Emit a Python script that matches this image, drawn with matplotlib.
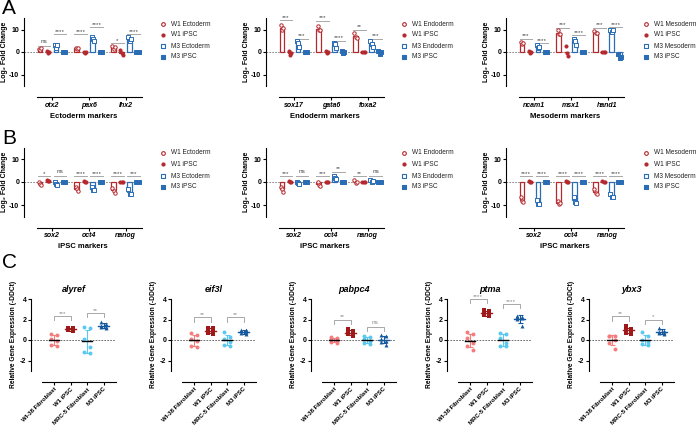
import matplotlib
matplotlib.use('Agg')
import matplotlib.pyplot as plt
import numpy as np

plt.rcParams['font.family'] = ['Liberation Sans', 'DejaVu Sans']
plt.rcParams['axes.linewidth'] = 0.8

W, H = 696, 430
RED = '#b5282e'
BLUE = '#2a6db5'
SIGLINE = '#a8a8a8'
SIGTXT = '#444444'

# ---- panel A / B data: [gene][replicate] for each series ----
lineages = ['Ectoderm', 'Endoderm', 'Mesoderm']
a_genes = [['otx2', 'pax6', 'lhx2'], ['sox17', 'gata6', 'foxa2'], ['ncam1', 'msx1', 'hand1']]
b_genes = ['sox2', 'oct4', 'nanog']

# A: lineage markers
a_w1_diff = [
    [[1.5, 0.8, 2.0], [2.0, 1.2, 1.8], [2.5, 1.5, 2.2]],
    [[12.0, 9.8, 10.6], [11.5, 10.0, 9.6], [8.4, 6.6, 6.4]],
    [[4.5, 3.4, 3.8], [9.8, 8.2, 8.0], [9.2, 8.3, 8.6]],
]
a_w1_ipsc = [
    [[0.5, -0.4, 0.0], [0.2, -0.3, 0.0], [0.9, -0.6, -1.3]],
    [[0.3, -1.2, -0.5], [0.5, -0.5, 0.0], [0.2, -0.1, 0.0]],
    [[0.5, -0.6, -0.2], [2.5, -0.6, -1.8], [0.2, -0.2, 0.0]],
]
a_m3_diff = [
    [[3.2, 2.0, 3.0], [6.5, 5.8, 4.9], [6.6, 5.0, 6.0]],
    [[5.0, 4.0, 2.4], [4.2, 3.6, 1.8], [4.8, 3.6, 2.2]],
    [[3.2, 1.8, 2.2], [6.0, 4.8, 3.3], [10.0, 8.8, 9.6]],
]
a_m3_ipsc = [
    [[0.1, -0.1, 0.0], [0.1, -0.1, 0.0], [0.1, -0.1, 0.0]],
    [[0.2, -0.2, 0.0], [0.3, -0.6, 0.1], [0.4, -0.8, -0.2]],
    [[0.2, -0.2, 0.0], [0.1, -0.1, 0.0], [-1.0, -2.8, -2.0]],
]
a_sig = [['ns', '****', '****', '****', '*', '****'],
         ['***', '***', '***', '****', '**', '***'],
         ['***', '****', '***', '****', '***', '****']]
a_sig_y = [[2.7, 8, 8, 11, 4, 8],
           [14.2, 6, 14, 5, 10, 6],
           [6, 4, 10.7, 7.5, 10.7, 11]]

# B: iPSC markers
b_w1_diff = [
    [[-0.2, -1.0, -1.4], [-2.0, -3.0, -4.0], [-2.4, -4.0, -4.6]],
    [[-2.0, -3.2, -4.2], [0.2, -1.2, -1.6], [1.0, -0.6, 0.2]],
    [[-6.5, -8.2, -8.6], [-8.2, -9.6, -9.2], [-3.0, -4.6, -5.0]],
]
b_w1_ipsc = [
    [[1.0, 0.3, 0.6], [0.5, -0.2, 0.1], [0.2, -0.1, 0.1]],
    [[0.3, -0.1, 0.0], [0.2, 0.0, -0.1], [0.1, 0.0, -0.1]],
    [[0.6, -0.2, 0.1], [0.3, -0.2, 0.0], [0.3, -0.2, 0.0]],
]
b_m3_diff = [
    [[0.2, -0.8, -1.2], [-2.2, -3.5, -3.6], [-3.0, -5.2, -5.0]],
    [[0.2, -0.6, -1.0], [2.5, 1.6, 1.2], [0.8, 0.2, 0.4]],
    [[-8.0, -9.6, -9.4], [-6.4, -8.6, -9.0], [-5.0, -6.6, -6.4]],
]
b_m3_ipsc = [
    [[0.1, -0.1, 0.0], [0.1, -0.1, 0.0], [0.1, -0.2, 0.0]],
    [[0.1, 0.0, -0.1], [0.1, -0.1, 0.0], [0.1, -0.2, 0.0]],
    [[0.2, -0.1, 0.0], [0.1, -0.1, 0.2], [0.2, -0.1, 0.0]],
]
b_sig = [['*', 'ns', '****', '****', '****', '***'],
         ['***', 'ns', '***', '**', '**', 'ns'],
         ['****', '****', '****', '****', '****', '****']]
b_sig_y = [[2.6, 2.6, 2.6, 2.6, 2.6, 2.6],
           [2.6, 2.6, 2.6, 4.5, 2.6, 2.6],
           [2.6, 2.6, 2.6, 2.6, 2.6, 2.6]]

# ---- panel C data ----
c_genes = ['alyref', 'eif3l', 'pabpc4', 'ptma', 'ybx3']
c_groups = ['WI-38 Fibroblast', 'W1 iPSC', 'MRC-5 Fibroblast', 'M3 iPSC']
c_colors = ['#f47c7c', '#9e1a1a', '#5ac8f0', '#15589c']
c_markers = ['o', 's', 'o', '^']
c_wi38 = [[0.55, 0.5, 0.05, -0.05, -0.5, -0.55],
          [0.65, 0.5, 0.1, -0.1, -0.6, -0.7],
          [0.3, 0.2, 0.05, -0.05, -0.2, -0.25],
          [0.75, 0.6, 0.2, -0.3, -0.6, -0.95],
          [0.4, 0.4, 0.35, 0.0, -0.3, -0.85]]
c_w1 = [[1.2, 1.15, 1.05, 1.0, 0.95, 0.85],
        [1.2, 1.15, 0.95, 0.85, 0.65, 0.6],
        [1.1, 0.85, 0.75, 0.65, 0.55, 0.4],
        [2.95, 2.8, 2.65, 2.55, 2.4, 2.3],
        [1.35, 1.1, 1.0, 0.85, 0.7, 0.6]]
c_mrc5 = [[1.25, 1.15, 0.1, -0.7, -1.2, -1.3],
          [0.75, 0.3, 0.05, -0.15, -0.45, -0.6],
          [0.4, 0.3, 0.05, -0.05, -0.3, -0.35],
          [0.7, 0.55, 0.15, -0.25, -0.55, -0.6],
          [0.8, 0.35, 0.0, -0.2, -0.35, -0.45]]
c_m3 = [[1.75, 1.55, 1.4, 1.3, 1.25, 1.15],
        [1.0, 0.95, 0.85, 0.75, 0.7, 0.55],
        [0.45, 0.35, 0.1, -0.05, -0.2, -0.45],
        [2.35, 2.25, 2.2, 2.15, 2.05, 1.35],
        [1.2, 0.9, 0.8, 0.7, 0.65, 0.6]]
c_sig = [['***', '**'], ['**', '**'], ['**', 'ns'], ['****', '****'], ['**', '*']]
c_sig_y = [[2.35, 2.65], [2.2, 2.2], [2.0, 1.3], [4.0, 3.5], [2.3, 2.0]]


def px_axes(fig, left, top, width, height):
    return fig.add_axes([left / W, 1 - (top + height) / H, width / W, height / H])


def style_axes(ax, xbounds):
    # spine moves reset the ticks, so do them before any tick styling
    for sp in ('top', 'right'):
        ax.spines[sp].set_visible(False)
    ax.spines['bottom'].set_position(('outward', 8))
    ax.spines['bottom'].set_bounds(*xbounds)
    ax.tick_params(length=2.2, width=0.8, pad=1.2, labelsize=5)


def marker_panel(ax, genes, series, sigs, sig_ys, xlabel):
    style_axes(ax, (-1.9, 11.3))
    centers = np.arange(len(genes)) * 4.6
    offs = [-1.5, -0.5, 0.5, 1.5]
    styles = [(RED, 'o', False), (RED, 'o', True), (BLUE, 's', False), (BLUE, 's', True)]
    ax.axhline(0, color='#777777', lw=0.6, ls=(0, (2, 1.5)), zorder=1)
    for s, (vals, (col, mk, filled)) in enumerate(zip(series, styles)):
        for g in range(len(genes)):
            x = centers[g] + offs[s]
            v = np.array(vals[g])
            ax.bar(x, v.mean(), width=0.62, facecolor='none', edgecolor=col, lw=0.9, zorder=2)
            jit = (np.arange(len(v)) - (len(v) - 1) / 2) * 0.14
            ax.scatter(x + jit, v, marker=mk, s=6 if not filled else 5,
                       facecolors=col if filled else 'white', edgecolors=col,
                       linewidths=0.7, zorder=3)
    k = 0
    for g in range(len(genes)):
        for p in (0, 2):
            x0 = centers[g] + offs[p] - 0.3
            x1 = centers[g] + offs[p + 1] + 0.3
            y = sig_ys[k]
            ax.plot([x0, x1], [y, y], color=SIGLINE, lw=0.7, zorder=2)
            lab = sigs[k]
            ax.text((x0 + x1) / 2, y + (1.0 if lab == 'ns' else 0.2), lab,
                    ha='center', va='bottom', fontsize=4.6, color=SIGTXT)
            k += 1
    ax.set_xlim(-3.5, 11.3)
    ax.set_ylim(-15, 15)
    ax.set_yticks([-10, 0, 10])
    ax.set_yticklabels(['-10', '0', '10'], fontweight='bold', fontsize=5)
    ax.set_xticks(centers)
    ax.set_xticklabels(genes, fontstyle='italic', fontweight='bold', fontsize=5)
    ax.set_ylabel('Log₂ Fold Change', fontsize=5, fontweight='bold', labelpad=0.8)
    ax.set_xlabel(xlabel, fontsize=5.5, fontweight='bold', labelpad=3)


def c_panel(ax, title, groups, sigs, sig_ys):
    style_axes(ax, (-0.75, 3.75))
    ax.axhline(0, color='#555555', lw=0.6, ls=(0, (2, 1.5)), zorder=1)
    for i, vals in enumerate(groups):
        v = np.array(vals)
        m, sd = v.mean(), v.std(ddof=1)
        ax.errorbar(i, m, yerr=sd, color=c_colors[i], capsize=1.8, lw=0.8,
                    capthick=0.8, zorder=2)
        order = np.argsort(-v)
        xs = np.zeros(len(v))
        xs[order] = np.where(np.arange(len(v)) % 2 == 0, -0.17, 0.17)
        ax.scatter(i + xs, v, marker=c_markers[i], s=8, color=c_colors[i],
                   linewidths=0, zorder=3)
        ax.plot([i - 0.32, i + 0.32], [m, m], color='black' if i % 2 == 0 else c_colors[i],
                lw=1.0, zorder=4)
    for j, (a, b) in enumerate([(0, 1), (2, 3)]):
        y = sig_ys[j]
        ax.plot([a, a, b, b], [y - 0.4, y, y, y - 0.4], color=SIGLINE, lw=0.7)
        lab = sigs[j]
        ax.text((a + b) / 2, y + (0.12 if lab == 'ns' else 0.02), lab, ha='center',
                va='bottom', fontsize=4.6, color='#888888')
    ax.set_xlim(-1.4, 3.75)
    ax.set_ylim(-3, 4)
    ax.set_yticks([-2, 0, 2, 4])
    ax.set_yticklabels(['-2', '0', '2', '4'], fontweight='bold', fontsize=5)
    ax.set_xticks(np.arange(4))
    ax.set_xticklabels(c_groups, rotation=45, ha='right', rotation_mode='anchor',
                       fontsize=4.3, fontweight='bold')
    ax.set_title(title, fontstyle='italic', fontweight='bold', fontsize=6.5, pad=5)
    ax.set_ylabel('Relative Gene Expression (-DDCt)', fontsize=4.8, fontweight='bold',
                  labelpad=2)


fig = plt.figure(figsize=(W / 100, H / 100), dpi=100)
lefts = [24, 266, 506]
leg_x = [163, 404, 646]

for k in range(3):
    ax = px_axes(fig, lefts[k], 18.25, 118.4, 67.5)
    marker_panel(ax, a_genes[k], [a_w1_diff[k], a_w1_ipsc[k], a_m3_diff[k], a_m3_ipsc[k]],
                 a_sig[k], a_sig_y[k], lineages[k] + ' markers')
    ax = px_axes(fig, lefts[k], 147.5, 118.4, 69)
    marker_panel(ax, b_genes, [b_w1_diff[k], b_w1_ipsc[k], b_m3_diff[k], b_m3_ipsc[k]],
                 b_sig[k], b_sig_y[k], 'iPSC markers')

c_lefts = [31, 171, 311, 447, 589]
for k in range(5):
    ax = px_axes(fig, c_lefts[k], 299, 85, 71.75)
    c_panel(ax, c_genes[k], [c_wi38[k], c_w1[k], c_mrc5[k], c_m3[k]], c_sig[k], c_sig_y[k])

# overlay in pixel coordinates for legends and panel letters
ov = fig.add_axes([0, 0, 1, 1])
ov.set_xlim(0, W)
ov.set_ylim(H, 0)
ov.axis('off')
leg_styles = [(RED, 'o', False), (RED, 'o', True), (BLUE, 's', False), (BLUE, 's', True)]
for rows_y in ([24, 35, 46, 57], [153, 164, 176, 187]):
    for k in range(3):
        labels = ['W1 ' + lineages[k], 'W1 iPSC', 'M3 ' + lineages[k], 'M3 iPSC']
        for (col, mk, filled), lab, y in zip(leg_styles, labels, rows_y):
            ov.scatter([leg_x[k]], [y], marker=mk, s=7 if not filled else 5,
                       facecolors=col if filled else 'white', edgecolors=col, linewidths=0.8)
            ov.text(leg_x[k] + 8, y, lab, fontsize=4.7, va='center', ha='left', color='#222222')

for letter, y in (('A', 9), ('B', 139), ('C', 263)):
    ov.text(2, y, letter, fontsize=15, va='center', ha='left')

fig.savefig('out.png', dpi=100)
